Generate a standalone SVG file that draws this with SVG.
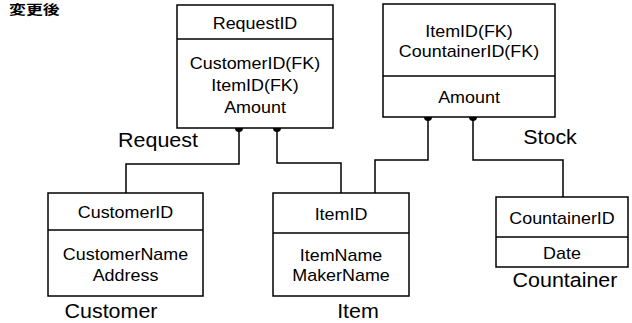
<svg xmlns="http://www.w3.org/2000/svg" width="632" height="323" viewBox="0 0 632 323">
<style>
  .box { fill: #fff; stroke: #000; stroke-width: 1.5; }
  .div { stroke: #000; stroke-width: 1.5; fill: none; }
  .conn { stroke: #000; stroke-width: 1.5; fill: none; }
  .dot { fill: #000; }
  .t { font-family: "Liberation Sans", Arial, sans-serif; font-size: 16px; fill: #000; text-anchor: middle; }
  .lbl { font-family: "Liberation Sans", Arial, sans-serif; font-size: 19.5px; fill: #000; text-anchor: middle; }
  .title { font-family: "Noto Sans CJK JP", sans-serif; font-size: 13px; font-weight: bold; fill: #000; }
</style>
<rect width="632" height="323" fill="#fff"/>
<text class="title" transform="translate(9,14) scale(1.3 1)">変更後</text>

<g id="connectors">
  <polyline class="conn" points="239,128 239,164 126,164 126,193"/>
  <polyline class="conn" points="277,128 277,163 341,163 341,193"/>
  <polyline class="conn" points="428,117 428,160 375,160 375,193"/>
  <polyline class="conn" points="473,117 473,160 563,160 563,197"/>
  <circle class="dot" cx="239" cy="128" r="4"/>
  <circle class="dot" cx="277" cy="128" r="4"/>
  <circle class="dot" cx="428" cy="117" r="4"/>
  <circle class="dot" cx="473" cy="117" r="4"/>
</g>

<g id="Request">
  <rect class="box" x="177" y="5" width="156" height="123"/>
  <line class="div" x1="177" y1="39" x2="333" y2="39"/>
  <text class="t" transform="translate(255,29) scale(1.12 1)">RequestID</text>
  <text class="t" transform="translate(255,69) scale(1.12 1)">CustomerID(FK)</text>
  <text class="t" transform="translate(255,91) scale(1.12 1)">ItemID(FK)</text>
  <text class="t" transform="translate(255,113) scale(1.12 1)">Amount</text>
  <text class="lbl" transform="translate(158,147) scale(1.1 1)">Request</text>
</g>

<g id="Stock">
  <rect class="box" x="383" y="4" width="172" height="113"/>
  <line class="div" x1="383" y1="76" x2="555" y2="76"/>
  <text class="t" transform="translate(469,37) scale(1.12 1)">ItemID(FK)</text>
  <text class="t" transform="translate(469,57) scale(1.12 1)">CountainerID(FK)</text>
  <text class="t" transform="translate(469,103) scale(1.12 1)">Amount</text>
  <text class="lbl" transform="translate(550,144) scale(1.1 1)">Stock</text>
</g>

<g id="Customer">
  <rect class="box" x="48" y="193" width="155" height="103"/>
  <line class="div" x1="48" y1="230" x2="203" y2="230"/>
  <text class="t" transform="translate(125.5,218) scale(1.12 1)">CustomerID</text>
  <text class="t" transform="translate(125.5,260) scale(1.12 1)">CustomerName</text>
  <text class="t" transform="translate(125.5,281) scale(1.12 1)">Address</text>
  <text class="lbl" transform="translate(111,318) scale(1.1 1)">Customer</text>
</g>

<g id="Item">
  <rect class="box" x="273" y="193" width="136" height="103"/>
  <line class="div" x1="273" y1="233" x2="409" y2="233"/>
  <text class="t" transform="translate(341,220) scale(1.12 1)">ItemID</text>
  <text class="t" transform="translate(341,261) scale(1.12 1)">ItemName</text>
  <text class="t" transform="translate(341,281) scale(1.12 1)">MakerName</text>
  <text class="lbl" transform="translate(358,318) scale(1.1 1)">Item</text>
</g>

<g id="Countainer">
  <rect class="box" x="496" y="197" width="132" height="70"/>
  <line class="div" x1="496" y1="237" x2="628" y2="237"/>
  <text class="t" transform="translate(562,224) scale(1.12 1)">CountainerID</text>
  <text class="t" transform="translate(562,259) scale(1.12 1)">Date</text>
  <text class="lbl" transform="translate(565,287) scale(1.1 1)">Countainer</text>
</g>
</svg>
